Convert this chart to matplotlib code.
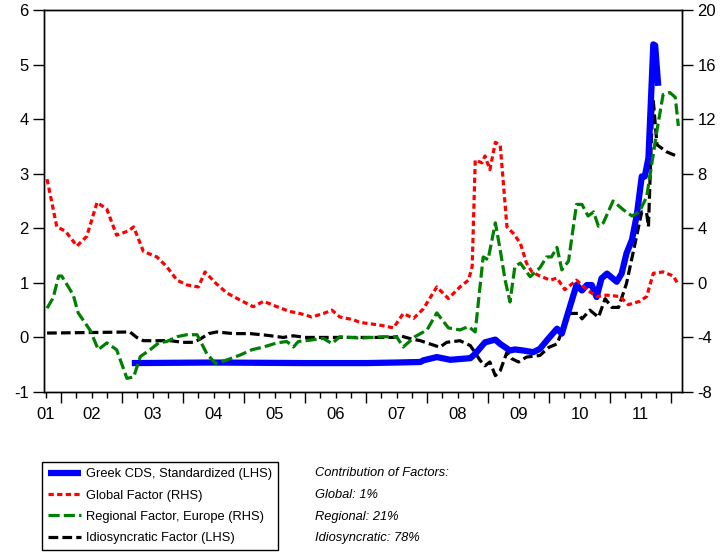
import numpy as np
import matplotlib
matplotlib.use("Agg")
import matplotlib.pyplot as plt

plt.rcParams['font.family'] = ['Liberation Sans', 'DejaVu Sans']
plt.rcParams['lines.scale_dashes'] = False

# ---- data (decimal years) ----
cds_t = [2003.16, 2004.5, 2006.0, 2007.0, 2007.5, 2007.89, 2007.94, 2008.16, 2008.38,
         2008.71, 2008.79, 2008.95, 2009.12, 2009.20, 2009.36, 2009.44, 2009.58, 2009.74,
         2009.85, 2009.96, 2010.13, 2010.21, 2010.29, 2010.45, 2010.54, 2010.62, 2010.70,
         2010.78, 2010.86, 2010.95, 2011.11, 2011.19, 2011.27, 2011.36, 2011.44, 2011.52,
         2011.57, 2011.63, 2011.71, 2011.74, 2011.79]
cds_v = [-0.47, -0.46, -0.47, -0.47, -0.46, -0.45, -0.42, -0.36, -0.41,
         -0.38, -0.30, -0.09, -0.04, -0.12, -0.24, -0.22, -0.24, -0.27,
         -0.21, -0.06, 0.16, 0.07, 0.37, 0.96, 0.86, 0.96, 0.96,
         0.74, 1.08, 1.17, 1.02, 1.17, 1.54, 1.79, 2.25, 2.95,
         2.95, 3.29, 5.37, 5.35, 4.61]

glob_t = [2001.77, 2001.93, 2002.07, 2002.26, 2002.42, 2002.59, 2002.75, 2002.91, 2003.10,
          2003.19, 2003.35, 2003.57, 2003.73, 2003.90, 2004.06, 2004.25, 2004.36, 2004.53,
          2004.72, 2004.93, 2005.15, 2005.32, 2005.54, 2005.75, 2005.92, 2006.11, 2006.30,
          2006.44, 2006.57, 2006.79, 2006.90, 2007.23, 2007.45, 2007.61, 2007.78, 2007.94,
          2008.16, 2008.35, 2008.54, 2008.68, 2008.74, 2008.79, 2008.90, 2008.95, 2009.03,
          2009.12, 2009.20, 2009.31, 2009.42, 2009.53, 2009.63, 2009.72, 2009.85, 2010.02,
          2010.13, 2010.26, 2010.45, 2010.62, 2010.78, 2010.95, 2011.16, 2011.30, 2011.49,
          2011.60, 2011.71, 2011.87, 2012.04, 2012.12]
glob_v = [7.6, 4.1, 3.8, 2.7, 3.4, 5.9, 5.4, 3.5, 3.8,
          4.1, 2.3, 1.9, 1.2, 0.2, -0.15, -0.3, 0.8, 0.0,
          -0.75, -1.25, -1.75, -1.35, -1.75, -2.1, -2.25, -2.5, -2.25,
          -2.0, -2.5, -2.7, -2.9, -3.1, -3.3, -2.25, -2.6, -1.9,
          -0.3, -1.15, -0.3, 0.2, 1.2, 9.0, 8.8, 9.3, 8.3,
          10.3, 10.1, 4.1, 3.6, 2.9, 1.45, 0.8, 0.5, 0.2,
          0.35, -0.5, 0.2, -0.5, -1.0, -0.9, -1.0, -1.6, -1.35,
          -1.0, 0.7, 0.8, 0.5, -0.15]

reg_t = [2001.77, 2001.87, 2001.96, 2002.01, 2002.12, 2002.20, 2002.28, 2002.48, 2002.61,
         2002.75, 2002.91, 2003.08, 2003.19, 2003.30, 2003.46, 2003.60, 2003.73, 2003.90,
         2004.06, 2004.23, 2004.39, 2004.53, 2004.72, 2004.93, 2005.13, 2005.32, 2005.54,
         2005.70, 2005.81, 2005.89, 2006.08, 2006.30, 2006.44, 2006.57, 2006.90, 2007.28,
         2007.50, 2007.61, 2007.80, 2008.00, 2008.16, 2008.35, 2008.54, 2008.68, 2008.79,
         2008.92, 2009.00, 2009.12, 2009.20, 2009.28, 2009.36, 2009.44, 2009.53, 2009.69,
         2009.85, 2009.96, 2010.04, 2010.13, 2010.21, 2010.32, 2010.45, 2010.54, 2010.64,
         2010.73, 2010.81, 2010.89, 2011.05, 2011.22, 2011.36, 2011.48, 2011.60, 2011.66,
         2011.77, 2011.87, 2011.98, 2012.07, 2012.12]
reg_v = [-1.86, -1.1, 0.5, 0.5, -0.3, -0.9, -2.2, -3.5, -4.9,
         -4.4, -4.9, -7.0, -6.9, -5.4, -4.9, -4.4, -4.3, -3.95,
         -3.8, -3.8, -5.2, -5.9, -5.65, -5.3, -4.9, -4.7, -4.4,
         -4.3, -4.7, -4.3, -4.2, -4.07, -4.45, -3.95, -4.05, -3.95,
         -3.95, -4.7, -3.95, -3.45, -2.2, -3.3, -3.45, -3.2, -3.6,
         1.9, 1.7, 4.4, 2.4, 0.2, -1.4, 1.2, 1.45, 0.45,
         1.1, 1.9, 1.9, 2.6, 0.95, 1.6, 5.75, 5.75, 4.9,
         5.2, 4.15, 4.4, 6.0, 5.35, 4.9, 5.2, 6.3, 8.0,
         11.2, 13.8, 13.95, 13.6, 11.5]

idio_t = [2001.77, 2002.5, 2003.13, 2003.24, 2003.35, 2003.79, 2004.0, 2004.17, 2004.28,
          2004.42, 2004.55, 2004.83, 2005.10, 2005.37, 2005.64, 2005.81, 2006.0, 2006.5,
          2006.9, 2007.45, 2007.56, 2007.72, 2007.89, 2008.05, 2008.21, 2008.32, 2008.54,
          2008.71, 2008.87, 2008.95, 2009.03, 2009.12, 2009.20, 2009.31, 2009.39, 2009.50,
          2009.63, 2009.85, 2010.0, 2010.13, 2010.23, 2010.34, 2010.48, 2010.54, 2010.67,
          2010.81, 2010.92, 2011.03, 2011.14, 2011.27, 2011.41, 2011.52, 2011.60, 2011.63,
          2011.68, 2011.71, 2011.77, 2011.93, 2012.12]
idio_v = [0.08, 0.09, 0.10, 0.0, -0.06, -0.06, -0.09, -0.09, -0.03,
          0.07, 0.10, 0.07, 0.07, 0.04, 0.0, 0.03, 0.0, 0.0,
          0.0, 0.0, 0.03, -0.02, -0.06, -0.12, -0.18, -0.09, -0.06,
          -0.15, -0.42, -0.52, -0.45, -0.70, -0.61, -0.27, -0.39, -0.45,
          -0.36, -0.33, -0.18, -0.12, 0.16, 0.44, 0.44, 0.34, 0.50,
          0.37, 0.71, 0.55, 0.55, 0.99, 1.72, 2.30, 2.28, 2.03,
          3.69, 4.33, 3.53, 3.40, 3.31]

contrib_lines = ['Contribution of Factors:', 'Global: 1%', 'Regional: 21%', 'Idiosyncratic: 78%']

# ---- figure ----
fig = plt.figure(figsize=(7.21, 5.53), dpi=100)
ax = fig.add_axes([44/721, 1-392/553, (682-44)/721, (392-10)/553])
ax2 = ax.twinx()

l_cds, = ax.plot(cds_t, cds_v, color='#0000ff', lw=4.5, solid_capstyle='butt',
                 label='Greek CDS, Standardized (LHS)', zorder=4)
l_idio, = ax.plot(idio_t, idio_v, color='black', lw=2.3, dashes=(7, 3),
                  label='Idiosyncratic Factor (LHS)', zorder=3)
l_glob, = ax2.plot(glob_t, glob_v, color='#ff0000', lw=2.3, dashes=(3.8, 2.4),
                   label='Global Factor (RHS)')
l_reg, = ax2.plot(reg_t, reg_v, color='#008000', lw=2.3, dashes=(8, 3),
                  label='Regional Factor, Europe (RHS)')

ax.set_xlim(2001.72, 2012.18)
ax.set_ylim(-1, 6)
ax2.set_ylim(-8, 20)
ax.set_yticks(np.arange(-1, 7, 1))
ax2.set_yticks(np.arange(-8, 21, 4))

# year boundaries = long ticks, quarters = short ticks, labels mid-year
years = np.arange(2002, 2013)
quarters = np.arange(2001.75, 2012.01, 0.25)
ax.set_xticks(years, labels=[''] * len(years))
qlab = []
for q in quarters:
    if abs(q - 2001.75) < 1e-6:
        qlab.append('01')
    elif abs(q - np.floor(q) - 0.5) < 1e-6:
        qlab.append('%02d' % (int(np.floor(q)) - 2000))
    else:
        qlab.append('')
ax.set_xticks(quarters, labels=qlab, minor=True)

ax.tick_params(axis='x', which='major', length=8, width=1, direction='out')
ax.tick_params(axis='x', which='minor', length=4, width=1, direction='out', labelsize=12, pad=7)
ax.tick_params(axis='y', length=8, width=1, labelsize=12, pad=3)
ax2.tick_params(axis='y', length=8, width=1, labelsize=12, pad=3)
ax.set_yticklabels(['-1', '0', '1', '2', '3', '4', '5', '6'])
ax2.set_yticklabels(['-8', '-4', '0', '4', '8', '12', '16', '20'])

for a in (ax, ax2):
    for s in a.spines.values():
        s.set_linewidth(1)

# legend
leg = fig.legend(handles=[l_cds, l_glob, l_reg, l_idio], loc='lower left',
                 bbox_to_anchor=(42/721, 3/553), frameon=True, fancybox=False,
                 edgecolor='black', framealpha=1, handlelength=2.55, handletextpad=0.4,
                 borderpad=0.45, labelspacing=0.72, borderaxespad=0,
                 prop={'size': 9.3})
leg.get_frame().set_linewidth(1)

ys = [473, 495, 517, 538]
for txt, y in zip(contrib_lines, ys):
    fig.text(315/721, 1 - y/553, txt, ha='left', va='center', style='italic', fontsize=9.3)

fig.savefig('out.png', dpi=100)
